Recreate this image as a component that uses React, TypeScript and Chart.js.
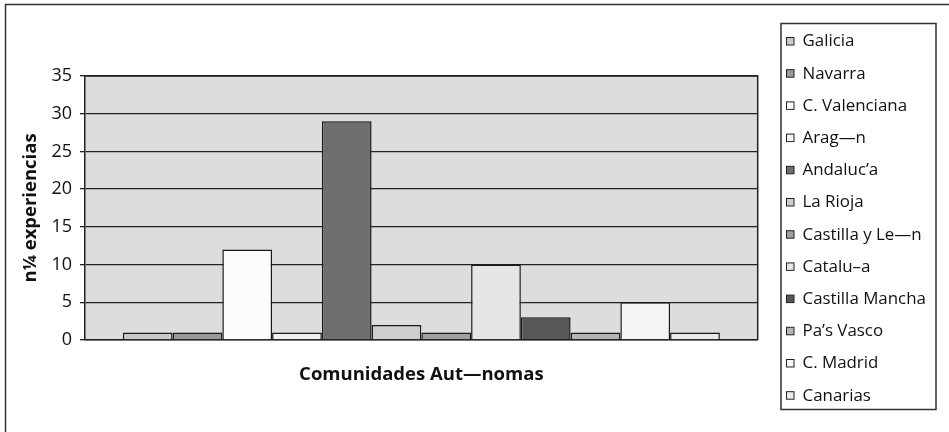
import React, { useEffect, useRef } from "react";
import { Chart, registerables } from "chart.js";

Chart.register(...registerables);

const categories: string[] = [""];
const regions: string[] = [
  "Galicia",
  "Navarra",
  "C. Valenciana",
  "Arag—n",
  "Andaluc’a",
  "La Rioja",
  "Castilla y Le—n",
  "Catalu–a",
  "Castilla Mancha",
  "Pa’s Vasco",
  "C. Madrid",
  "Canarias",
];
const experiencias: number[] = [1, 1, 12, 1, 29, 2, 1, 10, 3, 1, 5, 1];
const barColors: string[] = [
  "#c8c9cb",
  "#98999b",
  "#fcfcfc",
  "#f3f3f3",
  "#6e6f71",
  "#cdcecf",
  "#9fa0a2",
  "#e5e6e5",
  "#58585a",
  "#b3b4b6",
  "#f4f4f4",
  "#ebebeb",
];
const yTitle = "n¼ experiencias";
const xTitle = "Comunidades Aut—nomas";
const yMin = 0;
const yMax = 35;
const yStep = 5;

const FONT = "'Open Sans', 'Noto Sans', sans-serif";

const framePlugin = {
  id: "framePlugin",
  beforeDraw(chart: any) {
    const { ctx, chartArea } = chart;
    ctx.save();
    ctx.fillStyle = "#ffffff";
    ctx.fillRect(0, 0, chart.width, chart.height);
    // outer frame
    ctx.strokeStyle = "#333333";
    ctx.lineWidth = 1.5;
    ctx.strokeRect(5.5, 4.5, chart.width + 20, chart.height + 20);
    // plot background
    ctx.fillStyle = "#dcdddf";
    ctx.fillRect(chartArea.left, chartArea.top, chartArea.right - chartArea.left, chartArea.bottom - chartArea.top);
    ctx.restore();
  },
  afterDraw(chart: any) {
    const { ctx, chartArea } = chart;
    ctx.save();
    ctx.strokeStyle = "#222222";
    ctx.lineWidth = 1.5;
    ctx.beginPath();
    ctx.moveTo(chartArea.left, chartArea.top);
    ctx.lineTo(chartArea.right, chartArea.top);
    ctx.lineTo(chartArea.right, chartArea.bottom);
    ctx.stroke();

    // legend box
    const bx = 781, by = 23.5, bw = 155, bh = 386;
    ctx.strokeStyle = "#333333";
    ctx.lineWidth = 1.5;
    ctx.strokeRect(bx, by, bw, bh);
    ctx.font = `16.9px ${FONT}`;
    ctx.textBaseline = "middle";
    ctx.textAlign = "left";
    chart.data.datasets.forEach((ds: any, i: number) => {
      const cy = 41 + i * 32.2;
      ctx.fillStyle = ds.backgroundColor;
      ctx.fillRect(786.5, cy - 3.5, 7.5, 7.5);
      ctx.strokeStyle = "#222222";
      ctx.lineWidth = 1;
      ctx.strokeRect(786.5, cy - 3.5, 7.5, 7.5);
      ctx.fillStyle = "#111111";
      ctx.fillText(ds.label, 802.5, cy + 0.5);
    });
    ctx.restore();
  },
};

export default function App() {
  const ref = useRef<HTMLCanvasElement | null>(null);
  useEffect(() => {
    document.body.style.margin = "0";
    const canvas = ref.current;
    if (!canvas) return;
    const chart = new Chart(canvas, {
      type: "bar",
      data: {
        labels: categories,
        datasets: regions.map((r, i) => ({
          label: r,
          data: [experiencias[i]],
          backgroundColor: barColors[i],
          borderColor: "#1a1a1a",
          borderWidth: 1.5,
          categoryPercentage: 0.8875,
          barPercentage: 1,
        })),
      },
      options: {
        responsive: false,
        animation: false,
        devicePixelRatio: 1,
        layout: { padding: { left: 10, top: 76, right: 191.3, bottom: 0 } },
        plugins: {
          legend: { display: false },
          tooltip: { enabled: false },
        },
        scales: {
          x: {
            type: "category",
            grid: { display: false },
            border: { display: true, color: "#222222", width: 1.5 },
            ticks: { display: false },
            title: {
              display: true,
              text: xTitle,
              color: "#111111",
              font: { family: FONT, size: 18.5, weight: "bold" },
              padding: { top: 0, bottom: 46 },
            },
            afterFit: (s: any) => {
              s.height = 92;
            },
          },
          y: {
            min: yMin,
            max: yMax,
            ticks: {
              stepSize: yStep,
              color: "#111111",
              padding: 8,
              font: { family: FONT, size: 18 },
            },
            grid: { color: "#222222", lineWidth: 1.3, tickLength: 5, drawTicks: true },
            border: { display: true, color: "#222222", width: 1.5 },
            title: {
              display: true,
              text: yTitle,
              color: "#111111",
              font: { family: FONT, size: 18.5, weight: "bold" },
              padding: { top: 10, bottom: 0 },
            },
            afterFit: (s: any) => {
              s.width = 75;
            },
          },
        },
      },
      plugins: [framePlugin],
    });
    return () => chart.destroy();
  }, []);
  return (
    <div style={{ width: 949, height: 432 }}>
      <canvas ref={ref} width={949} height={432} style={{ display: "block" }} />
    </div>
  );
}
